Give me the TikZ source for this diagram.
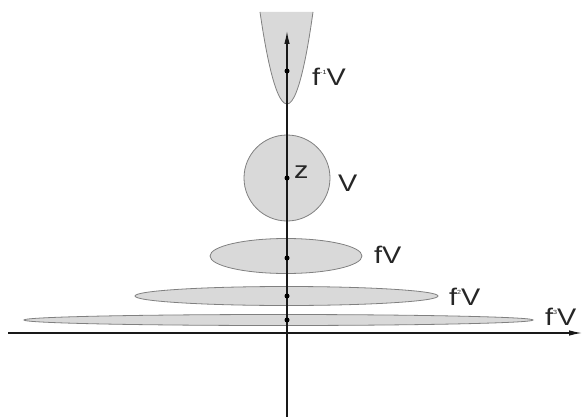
\documentclass[tikz,border=0pt]{standalone}
\usepackage{fontspec}
\setmainfont{Liberation Sans}
\newfontfamily\lblfont[FakeStretch=1.2]{Liberation Sans}
\usetikzlibrary{arrows.meta}
\newcommand{\supsm}[1]{\raisebox{11pt}{\fontsize{6}{6}\selectfont #1}}
\begin{document}
\begin{tikzpicture}[x=1pt,y=-1pt,
  region/.style={fill=black!15, draw=black!50, line width=0.8pt},
  dotpt/.style={circle, fill=black, inner sep=0pt, minimum size=5pt},
  lbl/.style={font=\lblfont\fontsize{24}{24}\selectfont, inner sep=0pt, anchor=west, text=black!85},
  axisline/.style={line width=1.2pt, draw=black!90, -{Latex[length=13pt,width=5.5pt]}}]
\useasboundingbox (0,0) rectangle (583,417);
% regions
\fill[black!15] (260,12) parabola bend (287,104) (313,12) -- cycle;
\draw[black!50, line width=0.8pt] (260,12) parabola bend (287,104) (313,12);
\draw[region] (287,178) circle [radius=43];
\draw[region] (286,256) ellipse [x radius=76, y radius=17.5];
\draw[region] (286.5,296) ellipse [x radius=151.5, y radius=9.5];
\draw[region] (278.5,320) ellipse [x radius=254.5, y radius=5.5];
% axes
\coordinate (xl) at (8,333);
\coordinate (xr) at (582,333);
\coordinate (yb) at (287,417);
\coordinate (yt) at (287,31);
\draw[axisline] (xl) -- (xr);
\draw[axisline] (yb) -- (yt);
% points
\node[dotpt] (p0) at (287,71) {};
\node[dotpt] (z) at (287,178) {};
\node[dotpt] (p1) at (287,258) {};
\node[dotpt] (p2) at (287,296) {};
\node[dotpt] (p3) at (287,320) {};
% labels
\node[lbl] (l0) at (312,77) {f\supsm{-1}V};
\node[lbl] (lz) at (294,172) {z};
\node[lbl] (lv) at (338,183) {V};
\node[lbl] (l1) at (374,255) {fV};
\node[lbl] (l2) at (449,297) {f\supsm{2}V};
\node[lbl] (l3) at (545,317) {f\supsm{3}V};
\end{tikzpicture}
\end{document}
